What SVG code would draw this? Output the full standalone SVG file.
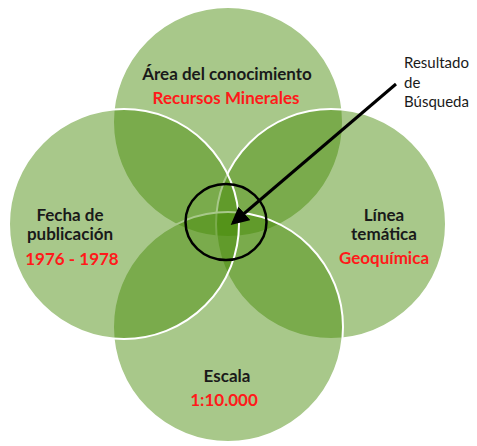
<svg xmlns="http://www.w3.org/2000/svg" width="477" height="446" viewBox="0 0 477 446">
<style>
.c{fill:#468a06;fill-opacity:0.47;stroke:#ffffff;stroke-width:2}
.t{font-family:Lato,"Liberation Sans",sans-serif;font-size:17px;font-weight:bold;fill:#1a1a1a;text-anchor:middle}
.r{fill:#ff1a1a}
.n{font-family:Lato,"Liberation Sans",sans-serif;font-size:15px;fill:#1a1a1a}
</style>
<defs>
<marker id="ah" markerWidth="6" markerHeight="6" refX="5" refY="3" orient="auto" markerUnits="strokeWidth">
<path d="M0,0 L6,3 L0,6 Z" fill="#000"/>
</marker>
</defs>
<rect width="477" height="446" fill="#ffffff"/>
<g id="area"><circle class="c" cx="228" cy="122" r="115"/></g>
<g id="linea"><circle class="c" cx="331" cy="224" r="115"/></g>
<g id="escala"><circle class="c" cx="228" cy="327" r="115"/></g>
<g id="fecha"><circle class="c" cx="124" cy="224" r="115"/></g>
<g id="resultado"><ellipse cx="226" cy="222" rx="40.5" ry="38" fill="none" stroke="#000" stroke-width="2.5"/></g>
<g id="connectors">
<line x1="396" y1="84" x2="233" y2="223" stroke="#000" stroke-width="3" marker-end="url(#ah)"/>
</g>
<g id="labels">
<text class="t" x="227" y="80">Área del conocimiento</text>
<text class="t r" x="226" y="104">Recursos Minerales</text>
<text class="t" x="70" y="221">Fecha de</text>
<text class="t" x="70" y="240">publicación</text>
<text class="t r" x="72" y="265">1976 - 1978</text>
<text class="t" x="384" y="221">Línea</text>
<text class="t" x="384" y="240">temática</text>
<text class="t r" x="384" y="264">Geoquímica</text>
<text class="t" x="227" y="382">Escala</text>
<text class="t r" x="224" y="406">1:10.000</text>
<text class="n" x="404" y="68">Resultado</text>
<text class="n" x="404" y="88">de</text>
<text class="n" x="404" y="107">Búsqueda</text>
</g>
</svg>
